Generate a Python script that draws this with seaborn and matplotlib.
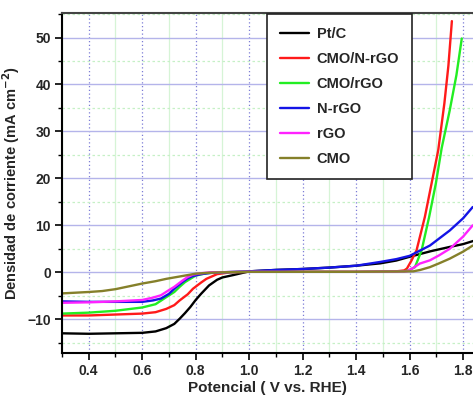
import matplotlib
matplotlib.use("Agg")
import matplotlib.pyplot as plt
from matplotlib.ticker import MultipleLocator
import numpy as np
import pandas as pd
import seaborn as sns

ptc_x = [0.30, 0.40, 0.50, 0.60, 0.65, 0.69, 0.72, 0.74, 0.76, 0.78, 0.80, 0.82, 0.85, 0.88, 0.90, 0.94, 0.97, 1.00,
         1.10, 1.20, 1.30, 1.40, 1.49, 1.55, 1.60, 1.68, 1.75, 1.80, 1.84]
ptc_y = [-13.0, -13.1, -13.0, -12.9, -12.6, -11.9, -11.0, -9.9, -8.7, -7.4, -5.9, -4.6, -2.8, -1.6, -1.1, -0.6, -0.2, 0.2,
         0.5, 0.7, 1.0, 1.4, 1.9, 2.5, 3.3, 4.5, 5.4, 6.0, 6.7]

cmo_nrgo_x = [0.30, 0.40, 0.50, 0.60, 0.65, 0.69, 0.72, 0.74, 0.77, 0.79, 0.82, 0.84, 0.88, 0.93, 1.00, 1.20, 1.40, 1.55,
              1.58, 1.59, 1.607, 1.626, 1.657, 1.682, 1.707, 1.73, 1.745, 1.758]
cmo_nrgo_y = [-9.2, -9.2, -9.0, -8.8, -8.5, -7.8, -7.0, -6.0, -4.7, -3.5, -2.2, -1.4, -0.4, 0.0, 0.1, 0.1, 0.1, 0.2,
              0.4, 0.8, 2.5, 4.7, 11.8, 18.9, 26.0, 36.0, 44.0, 53.5]

cmo_rgo_x = [0.30, 0.40, 0.50, 0.60, 0.65, 0.69, 0.72, 0.74, 0.76, 0.78, 0.80, 0.84, 0.90, 1.00, 1.20, 1.40, 1.58,
             1.60, 1.62, 1.645, 1.673, 1.698, 1.72, 1.75, 1.775, 1.795]
cmo_rgo_y = [-8.8, -8.6, -8.2, -7.5, -6.8, -5.3, -4.2, -3.1, -2.1, -1.4, -0.7, -0.2, 0.0, 0.1, 0.1, 0.1, 0.2,
             0.5, 1.1, 4.7, 11.8, 18.9, 26.5, 34.5, 42.0, 49.8]

nrgo_x = [0.30, 0.40, 0.50, 0.60, 0.64, 0.67, 0.70, 0.72, 0.75, 0.77, 0.79, 0.82, 0.86, 0.90, 1.00, 1.10, 1.20, 1.30,
          1.40, 1.49, 1.55, 1.60, 1.676, 1.75, 1.80, 1.836]
nrgo_y = [-6.2, -6.3, -6.3, -6.3, -6.0, -5.6, -4.6, -3.5, -2.1, -1.3, -0.8, -0.4, -0.1, 0.0, 0.2, 0.5, 0.7, 1.0,
          1.4, 2.2, 2.8, 3.5, 5.7, 8.9, 11.5, 13.9]

rgo_x = [0.30, 0.40, 0.50, 0.60, 0.64, 0.67, 0.70, 0.72, 0.75, 0.77, 0.79, 0.82, 0.86, 1.00, 1.20, 1.40, 1.589,
         1.61, 1.638, 1.676, 1.71, 1.75, 1.80, 1.836]
rgo_y = [-6.5, -6.4, -6.2, -5.9, -5.4, -4.9, -3.8, -3.1, -1.8, -1.0, -0.5, -0.2, 0.0, 0.1, 0.1, 0.1, 0.2,
         0.8, 1.85, 2.55, 3.6, 5.0, 7.6, 10.0]

cmo_x = [0.30, 0.40, 0.45, 0.50, 0.55, 0.60, 0.65, 0.69, 0.73, 0.76, 0.80, 0.85, 0.90, 1.00, 1.20, 1.40, 1.614,
         1.64, 1.676, 1.71, 1.75, 1.80, 1.836]
cmo_y = [-4.5, -4.2, -4.0, -3.6, -3.0, -2.4, -1.9, -1.4, -1.0, -0.7, -0.3, -0.1, 0.0, 0.1, 0.1, 0.1, 0.2,
         0.5, 1.1, 1.9, 2.9, 4.4, 5.7]

series = ["Pt/C", "CMO/N-rGO", "CMO/rGO", "N-rGO", "rGO", "CMO"]
xs = [ptc_x, cmo_nrgo_x, cmo_rgo_x, nrgo_x, rgo_x, cmo_x]
ys = [ptc_y, cmo_nrgo_y, cmo_rgo_y, nrgo_y, rgo_y, cmo_y]
colors = ["#000000", "#ff1a1a", "#22ee22", "#1414e6", "#ff22ff", "#85802a"]

x_ticks = [0.4, 0.6, 0.8, 1.0, 1.2, 1.4, 1.6, 1.8]
y_ticks = [-10, 0, 10, 20, 30, 40, 50]

frames = []
for name, x, y in zip(series, xs, ys):
    frames.append(pd.DataFrame({"x": x, "y": y, "sample": name}))
df = pd.concat(frames, ignore_index=True)

sns.set_style("white")
plt.rcParams["font.family"] = ["Liberation Sans", "DejaVu Sans"]

fig = plt.figure(figsize=(4.73, 3.98), dpi=100)
ax = fig.add_axes([0.131, 0.113, 0.869, 0.854])

# grid first so it sits under the curves
ax.set_axisbelow(True)
ax.grid(True, which="major", axis="y", color="#b4b4ea", linestyle="-", linewidth=1.0)
ax.grid(True, which="major", axis="x", color="#7c7cd6", linestyle=(0, (1, 2)), linewidth=0.9)
ax.grid(True, which="minor", axis="y", color="#c6f0c6", linestyle=(0, (2, 2)), linewidth=0.9)
ax.grid(True, which="minor", axis="x", color="#d6f4d6", linestyle="-", linewidth=0.9)

sns.lineplot(data=df, x="x", y="y", hue="sample", hue_order=series,
             palette=dict(zip(series, colors)), sort=False, estimator=None,
             linewidth=1.7, ax=ax)

ax.set_xlim(0.3, 1.837)
ax.set_ylim(-17.2, 55.2)
ax.set_xticks(x_ticks)
ax.set_xticklabels([f"{t:.1f}" for t in x_ticks])
ax.set_yticks(y_ticks)
ax.xaxis.set_minor_locator(MultipleLocator(0.1))
ax.yaxis.set_minor_locator(MultipleLocator(5))

ax.tick_params(which="major", direction="out", length=5, width=1.2, color="black",
               labelsize=10, pad=3, left=True, bottom=True)
ax.tick_params(which="minor", direction="out", length=3, width=1.0, color="black",
               left=True, bottom=True)
for lab in ax.get_xticklabels() + ax.get_yticklabels():
    lab.set_fontweight("bold")

for side in ["left", "bottom"]:
    ax.spines[side].set_color("black")
    ax.spines[side].set_linewidth(1.5)
ax.spines["top"].set_color("#444444")
ax.spines["top"].set_linewidth(1.5)
ax.spines["right"].set_visible(False)

ax.set_xlabel("Potencial ( V vs. RHE)", fontsize=11, fontweight="bold", labelpad=2)
ax.set_ylabel("Densidad de corriente (mA cm$^{\\mathbf{-2}}$)", fontsize=10.5, fontweight="bold", labelpad=4)

leg = ax.legend(loc="upper left", bbox_to_anchor=(0.497, 1.0), frameon=True, fancybox=False,
                edgecolor="#222222", prop={"weight": "bold", "size": 10.5},
                handlelength=2.0, handletextpad=0.5, labelspacing=0.75,
                borderpad=0.9, borderaxespad=0.05)
leg.get_frame().set_linewidth(1.2)
leg.get_frame().set_alpha(1)

plt.savefig("out.png", dpi=100)
plt.close(fig)
